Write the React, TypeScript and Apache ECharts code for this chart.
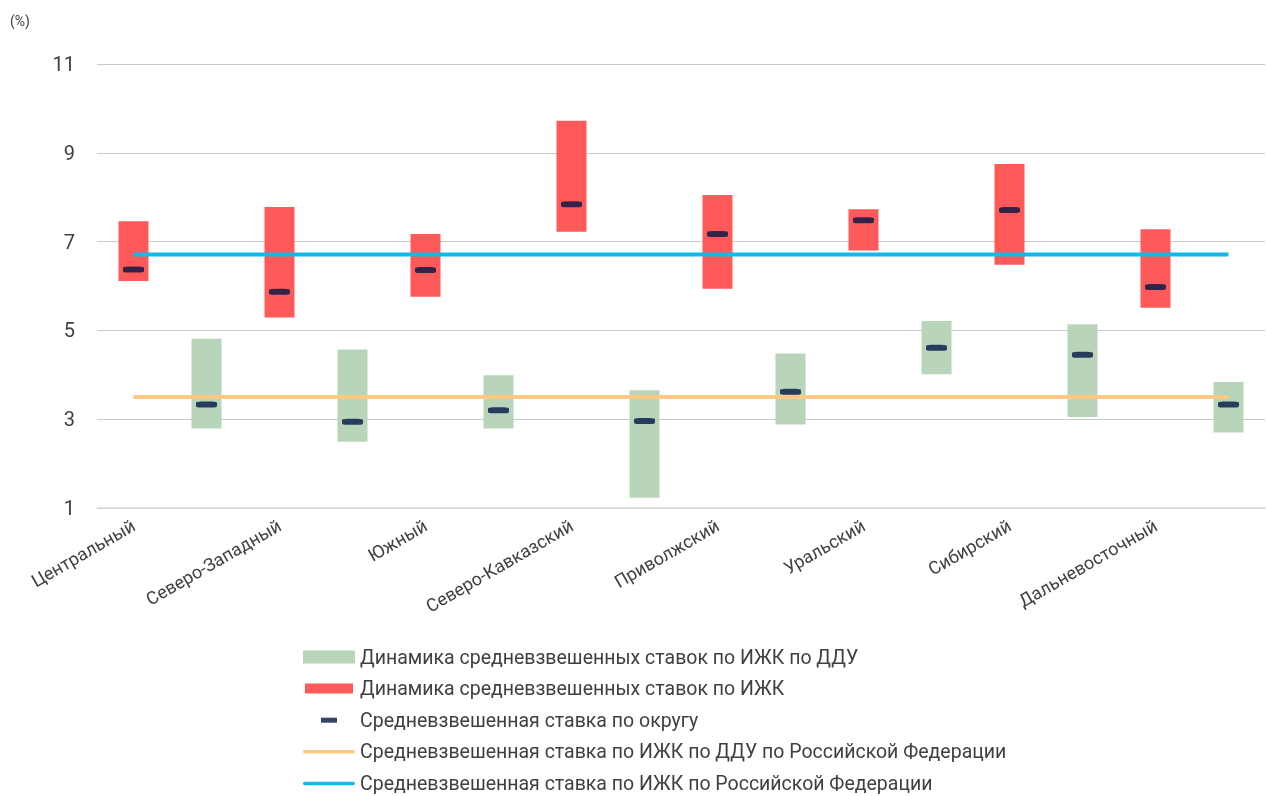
import React, { useEffect, useRef } from 'react';
import * as echarts from 'echarts';

const regions = ['Центральный', 'Северо-Западный', 'Южный', 'Северо-Кавказский', 'Приволжский', 'Уральский', 'Сибирский', 'Дальневосточный'];
// ИЖК range (red)
const ijkLow = [6.11, 5.29, 5.76, 7.22, 5.94, 6.8, 6.48, 5.51];
const ijkHigh = [7.46, 7.78, 7.17, 9.72, 8.05, 7.73, 8.75, 7.28];
const ijkAvg = [6.37, 5.87, 6.36, 7.84, 7.17, 7.48, 7.71, 5.98];
// ИЖК по ДДУ range (green)
const dduLow = [2.79, 2.49, 2.79, 1.23, 2.88, 4.01, 3.05, 2.7];
const dduHigh = [4.81, 4.57, 3.99, 3.65, 4.48, 5.21, 5.14, 3.84];
const dduAvg = [3.33, 2.94, 3.2, 2.96, 3.62, 4.61, 4.45, 3.33];
// Russian Federation averages
const rfIjk = 6.71;
const rfDdu = 3.5;

const NAME_DDU = 'Динамика средневзвешенных ставок по ИЖК по ДДУ';
const NAME_IJK = 'Динамика средневзвешенных ставок по ИЖК';
const NAME_AVG = 'Средневзвешенная ставка по округу';
const NAME_RF_DDU = 'Средневзвешенная ставка по ИЖК по ДДУ по Российской Федерации';
const NAME_RF_IJK = 'Средневзвешенная ставка по ИЖК по Российской Федерации';

export default function App() {
  const ref = useRef<HTMLDivElement>(null);
  useEffect(() => {
    const chart = echarts.init(ref.current!, null, { renderer: 'svg' });
    const slots: string[] = [];
    const base: number[] = [];
    const ijkSpan: (number | string)[] = [];
    const dduSpan: (number | string)[] = [];
    const avg: number[] = [];
    const rfI: number[] = [];
    const rfD: number[] = [];
    regions.forEach((r, k) => {
      slots.push(r);
      slots.push(r + ' (ДДУ)');
      base.push(ijkLow[k], dduLow[k]);
      ijkSpan.push(Math.round((ijkHigh[k] - ijkLow[k]) * 100) / 100, '-');
      dduSpan.push('-', Math.round((dduHigh[k] - dduLow[k]) * 100) / 100);
      avg.push(ijkAvg[k], dduAvg[k]);
      rfI.push(rfIjk, rfIjk);
      rfD.push(rfDdu, rfDdu);
    });
    const textColor = '#404040';
    const lineIcon = 'path://M0,0M52,13M1.5,4.75h49a1.75,1.75 0 0 1 0,3.5h-49a1.75,1.75 0 0 1 0,-3.5z';
    chart.setOption({
      animation: false,
      textStyle: { fontFamily: 'Roboto' },
      title: {
        text: '(%)',
        left: 5,
        top: 9,
        textStyle: { fontSize: 14, fontWeight: 'normal', color: textColor, fontFamily: 'Roboto' },
      },
      grid: { left: 97, right: 1, top: 64, bottom: 288, containLabel: false },
      legend: {
        orient: 'vertical',
        left: 303,
        top: 647,
        height: 149,
        padding: 0,
        itemWidth: 52,
        itemHeight: 13,
        itemGap: 11.6,
        selectedMode: false,
        textStyle: { fontSize: 19.5, color: textColor, fontFamily: 'Roboto' },
        data: [
          { name: NAME_DDU, icon: 'rect' },
          { name: NAME_IJK, icon: 'path://M0,0M52,13M2,1.5h48v10h-48z' },
          { name: NAME_AVG, icon: 'path://M0,0M52,13M18,4h16v5h-16z' },
          { name: NAME_RF_DDU, icon: lineIcon },
          { name: NAME_RF_IJK, icon: lineIcon },
        ],
      },
      xAxis: [
        {
          type: 'category',
          data: slots,
          boundaryGap: true,
          axisLine: { lineStyle: { color: '#d9d9d9', width: 1.5 } },
          axisTick: { interval: 1, length: 8, lineStyle: { color: '#d9d9d9', width: 1.5 } },
          axisLabel: {
            interval: 0,
            rotate: 30,
            margin: 16,
            fontSize: 18,
            color: textColor,
            formatter: (v: string, i: number) => (i % 2 === 0 ? v : ''),
          },
          splitLine: { show: false },
        },
        {
          type: 'category',
          data: slots,
          position: 'bottom',
          offset: 0,
          boundaryGap: true,
          axisLine: { show: false },
          axisTick: { inside: true, interval: 1, length: 8, lineStyle: { color: '#d9d9d9', width: 1.5 } },
          axisLabel: { show: false },
          splitLine: { show: false },
        },
      ],
      yAxis: {
        type: 'value',
        min: 1,
        max: 11,
        interval: 2,
        axisLine: { show: false },
        axisTick: { show: false },
        axisLabel: { fontSize: 20, color: textColor, margin: 22 },
        splitLine: { lineStyle: { color: '#c9c9c9', width: 1.2 } },
      },
      series: [
        {
          name: 'base',
          type: 'bar',
          stack: 'range',
          barWidth: 30,
          silent: true,
          itemStyle: { color: 'rgba(0,0,0,0)' },
          data: base,
        },
        {
          name: NAME_IJK,
          type: 'bar',
          stack: 'range',
          barWidth: 30,
          itemStyle: { color: '#ff5a5a' },
          data: ijkSpan,
        },
        {
          name: NAME_DDU,
          type: 'bar',
          stack: 'range',
          barWidth: 30,
          itemStyle: { color: '#b9d5b9' },
          data: dduSpan,
        },
        {
          name: NAME_RF_DDU,
          type: 'line',
          symbol: 'none',
          z: 3,
          lineStyle: { color: '#ffc983', width: 4 },
          itemStyle: { color: '#ffc983' },
          data: rfD,
        },
        {
          name: NAME_RF_IJK,
          type: 'line',
          symbol: 'none',
          z: 3,
          lineStyle: { color: '#13b8e8', width: 4 },
          itemStyle: { color: '#13b8e8' },
          data: rfI,
        },
        {
          name: NAME_AVG,
          type: 'scatter',
          z: 5,
          symbol: 'roundRect',
          symbolSize: [21, 6],
          itemStyle: { color: '#021445' },
          data: avg,
        },
      ],
    });
    return () => chart.dispose();
  }, []);
  return <div ref={ref} style={{ position: 'fixed', left: 0, top: 0, width: 1266, height: 796 }} />;
}
